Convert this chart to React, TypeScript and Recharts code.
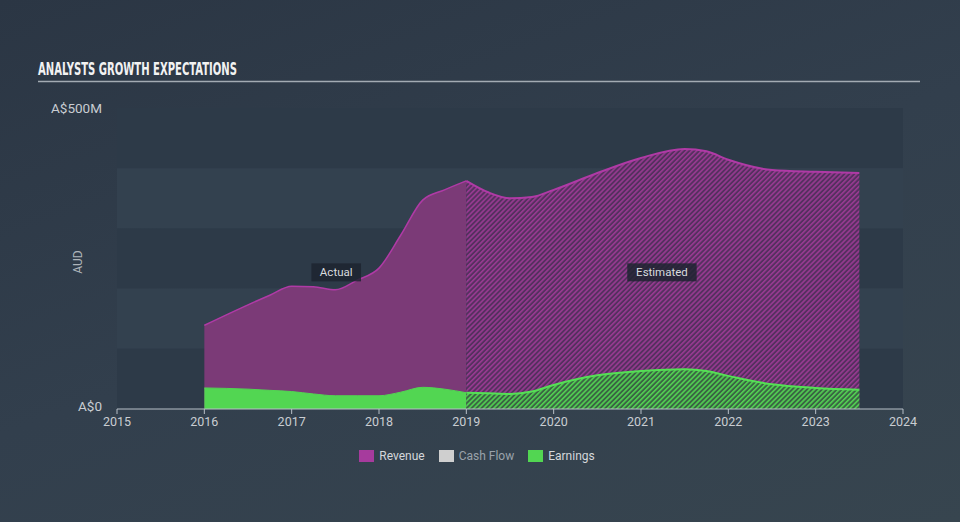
import React from 'react';
import { ComposedChart, Area, XAxis, YAxis, ReferenceArea, ReferenceDot } from 'recharts';

const years = [2016, 2016.5, 2016.75, 2017, 2017.25, 2017.5, 2017.75, 2018, 2018.25, 2018.5, 2018.75, 2019, 2019.25, 2019.5, 2019.75, 2020, 2020.5, 2021, 2021.5, 2021.75, 2022, 2022.5, 2023, 2023.5];
const revenue = [139, 173, 189, 204, 203, 198, 214, 234, 289, 347, 364, 379, 360, 350, 352, 364, 392, 417, 432, 428, 414, 397, 394, 392];
const earnings = [35, 33, 31, 29, 25, 22, 22, 22, 28, 36, 33, 27, 26, 25, 29, 40, 56, 63, 66, 63, 55, 41, 35, 32];
const actualEnd = 2019;
const xTicks = [2015, 2016, 2017, 2018, 2019, 2020, 2021, 2022, 2023, 2024];
const yTicks = [0, 500];
const bands = [
  { from: 400, to: 500, dark: true },
  { from: 300, to: 400, dark: false },
  { from: 200, to: 300, dark: true },
  { from: 100, to: 200, dark: false },
  { from: 0, to: 100, dark: true },
];
const labels = [
  { text: 'Actual', x: 2017.51, y: 227 },
  { text: 'Estimated', x: 2021.24, y: 227 },
];
const legendItems = [
  { name: 'Revenue', color: '#a63b9d', text: '#d4d7db' },
  { name: 'Cash Flow', color: '#cfcfcf', text: '#9aa2ab' },
  { name: 'Earnings', color: '#52d652', text: '#d4d7db' },
];

const rows = years.map((x, i) => ({
  x,
  revA: x <= actualEnd ? revenue[i] : null,
  revE: x >= actualEnd ? revenue[i] : null,
  earnA: x <= actualEnd ? earnings[i] : null,
  earnE: x >= actualEnd ? earnings[i] : null,
}));

const FONT = 'Roboto, "Open Sans", sans-serif';

const LabelBox = (props: any) => {
  const { cx, cy, text } = props;
  const w = text.length * 6.6 + 10;
  return (
    <g>
      <rect x={cx - w / 2} y={cy - 9} width={w} height={18} fill="#1d2430" fillOpacity={0.85} />
      <text x={cx} y={cy + 4} textAnchor="middle" fill="#d8dbdf" fontSize={11.5} fontFamily={FONT}>{text}</text>
    </g>
  );
};

export default function App() {
  return (
    <div style={{ position: 'absolute', left: 0, top: 0, width: 960, height: 522, overflow: 'hidden', background: 'linear-gradient(160deg, #2b3644 0%, #323f4d 50%, #37454f 100%)', fontFamily: FONT }}>
      <svg width={0} height={0} style={{ position: 'absolute' }}>
        <defs>
          <pattern id="hatchRev" width={3.5} height={3.5} patternUnits="userSpaceOnUse" patternTransform="rotate(45)">
            <rect width={3.5} height={3.5} fill="#55305f" />
            <rect width={1.6} height={3.5} fill="#983a92" />
          </pattern>
          <pattern id="hatchEarn" width={3.5} height={3.5} patternUnits="userSpaceOnUse" patternTransform="rotate(45)">
            <rect width={3.5} height={3.5} fill="#3a6443" />
            <rect width={1.6} height={3.5} fill="#52d052" />
          </pattern>
        </defs>
      </svg>
      <svg width={960} height={100} style={{ position: 'absolute', left: 0, top: 0 }}>
        <text x={38} y={75} fill="#f2f2f2" fontFamily='"Liberation Sans Narrow", "DejaVu Sans Condensed", sans-serif' fontWeight="bold" fontSize={17} textLength={199} lengthAdjust="spacingAndGlyphs">ANALYSTS GROWTH EXPECTATIONS</text>
        <line x1={38} y1={81.5} x2={920} y2={81.5} stroke="#a3abb3" strokeWidth={1.5} />
      </svg>
      <svg width={120} height={522} style={{ position: 'absolute', left: 0, top: 0 }}>
        <text x={0} y={0} transform="translate(82,262) rotate(-90)" textAnchor="middle" fill="#aeb4ba" fontSize={12} fontFamily={FONT}>AUD</text>
      </svg>
      <div style={{ position: 'absolute', left: 0, top: 0 }}>
        <ComposedChart width={960} height={522} data={rows} margin={{ top: 108, right: 57, bottom: 83, left: 0 }}>
          <XAxis dataKey="x" type="number" domain={[2015, 2024]} ticks={xTicks} allowDataOverflow
            stroke="#b8c0c8" tickSize={5} tickMargin={3} height={30}
            tick={{ fill: '#c9cdd2', fontSize: 12.5, fontFamily: FONT }} />
          <YAxis type="number" domain={[0, 500]} ticks={yTicks} width={117} axisLine={false} tickLine={false}
            tickSize={0} tickMargin={15}
            tickFormatter={(v: number) => (v === 0 ? 'A$0' : `A$${v}M`)}
            tick={(p: any) => (
              <text x={p.x} y={p.y + (p.payload.value === 0 ? -3 : 0)} dy="0.355em" textAnchor="end" fill="#c9cdd2" fontSize={13.5} fontFamily={FONT}>
                {p.payload.value === 0 ? 'A$0' : `A$${p.payload.value}M`}
              </text>
            )} />
          {bands.map((b) => (
            <ReferenceArea key={b.from} y1={b.from} y2={b.to} x1={2015} x2={2024} fill={b.dark ? '#2d3a48' : '#33414f'} fillOpacity={1} stroke="none" ifOverflow="visible" />
          ))}
          <Area dataKey="revA" type="monotone" fill="#7b3a77" fillOpacity={1} stroke="#b03aa6" strokeWidth={1.5} isAnimationActive={false} dot={false} activeDot={false} />
          <Area dataKey="revE" type="monotone" fill="url(#hatchRev)" fillOpacity={1} stroke="#b03aa6" strokeWidth={2} isAnimationActive={false} dot={false} activeDot={false} />
          <Area dataKey="earnA" type="monotone" fill="#52d652" fillOpacity={1} stroke="#52d652" strokeWidth={1} isAnimationActive={false} dot={false} activeDot={false} />
          <Area dataKey="earnE" type="monotone" fill="url(#hatchEarn)" fillOpacity={1} stroke="#55e055" strokeWidth={2} isAnimationActive={false} dot={false} activeDot={false} />
          {labels.map((l) => (
            <ReferenceDot key={l.text} x={l.x} y={l.y} r={0} ifOverflow="visible" shape={(p: any) => <LabelBox {...p} text={l.text} />} />
          ))}
        </ComposedChart>
      </div>
      <div style={{ position: 'absolute', left: 0, top: 449, width: 960, display: 'flex', justifyContent: 'center', gap: 14, fontSize: 12, marginLeft: -3 }}>
        {legendItems.map((it) => (
          <div key={it.name} style={{ display: 'flex', alignItems: 'center', gap: 5 }}>
            <span style={{ display: 'inline-block', width: 15, height: 12, background: it.color }} />
            <span style={{ color: it.text }}>{it.name}</span>
          </div>
        ))}
      </div>
    </div>
  );
}
